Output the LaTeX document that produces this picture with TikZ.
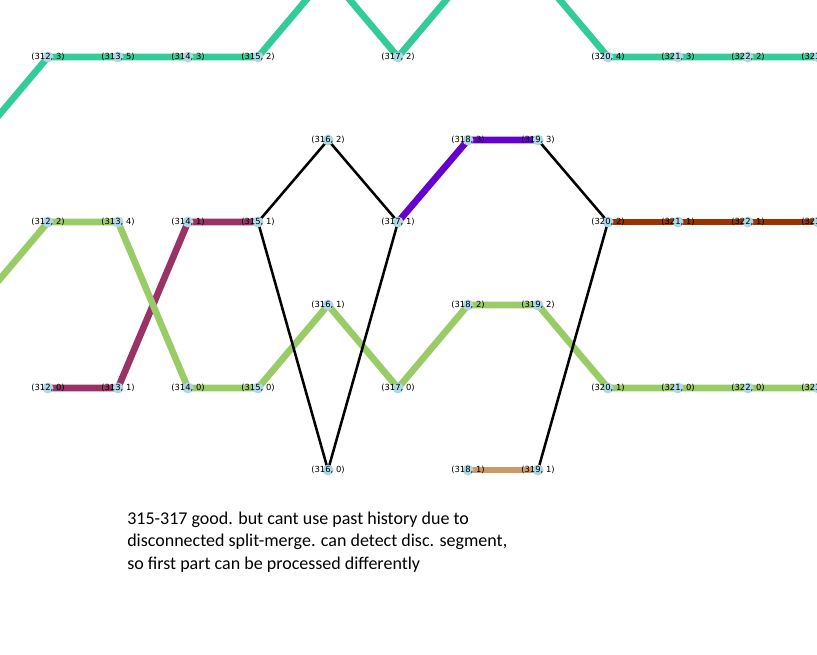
\documentclass[tikz,border=0pt]{standalone}
\usepackage{fontspec}
\setmainfont{Carlito}
\newfontfamily\labelfont{DejaVu Sans}
\definecolor{dotfill}{RGB}{173, 216, 230}
\definecolor{tealpath}{RGB}{51, 204, 153}
\definecolor{greenpath}{RGB}{153, 204, 102}
\definecolor{maroonpath}{RGB}{153, 51, 102}
\definecolor{purplepath}{RGB}{102, 0, 204}
\definecolor{brownpath}{RGB}{153, 51, 0}
\definecolor{tanpath}{RGB}{204, 153, 102}
\pgfdeclarelayer{edges}
\pgfsetlayers{edges, main}
\tikzset{
    dot/.style={circle, fill=dotfill, inner sep=0pt, minimum size=8.25pt},
    lab/.style={font=\labelfont\fontsize{6.3}{7}\selectfont, inner sep=0pt},
    track/.style={line width=5pt, line join=round},
    link/.style={line width=1.9pt, black, line join=round},
}

\begin{document}
\begin{tikzpicture}[x=0.75pt, y=-0.75pt]
    \useasboundingbox (0, 0) rectangle (817, 655);
    \clip (0, 0) rectangle (817, 655);

    % frames 312..323, placed by column
    \foreach \tm/\lv/\yy in {312/3/57, 313/5/57, 314/3/57, 315/2/57, 317/2/57,
            320/4/57, 321/3/57, 322/2/57, 323/3/57,
            316/2/140, 318/3/140, 319/3/140,
            312/2/222, 313/4/222, 314/1/222, 315/1/222, 317/1/222,
            320/2/222, 321/1/222, 322/1/222, 323/1/222,
            316/1/305, 318/2/305, 319/2/305,
            312/0/388, 313/1/388, 314/0/388, 315/0/388, 317/0/388,
            320/1/388, 321/0/388, 322/0/388, 323/0/388,
            316/0/470, 318/1/470, 319/1/470}{
        \node[dot, label={[lab]center:{(\tm, \lv)}}] (n\tm-\lv)
            at ({48 + 70*(\tm - 312)}, \yy) {};
    }
    % ends that leave the frame
    \coordinate (tealin) at (-22, 140);
    \coordinate (greenin) at (-22, 305);
    \coordinate (teal316) at (328, -26);
    \coordinate (teal318) at (468, -26);
    \coordinate (teal319) at (538, -26);

    \begin{pgfonlayer}{edges}
        \draw[track, tealpath] (tealin) -- (n312-3.center) -- (n313-5.center)
            -- (n314-3.center) -- (n315-2.center) -- (teal316)
            -- (n317-2.center) -- (teal318) -- (teal319) -- (n320-4.center)
            -- (n321-3.center) -- (n322-2.center) -- (n323-3.center);
        \draw[track, maroonpath] (n312-0.center) -- (n313-1.center)
            -- (n314-1.center) -- (n315-1.center);
        \draw[track, greenpath] (greenin) -- (n312-2.center) -- (n313-4.center)
            -- (n314-0.center) -- (n315-0.center) -- (n316-1.center)
            -- (n317-0.center) -- (n318-2.center) -- (n319-2.center)
            -- (n320-1.center) -- (n321-0.center) -- (n322-0.center)
            -- (n323-0.center);
        \draw[track, purplepath] (n317-1.center) -- (n318-3.center)
            -- (n319-3.center);
        \draw[track, brownpath] (n320-2.center) -- (n321-1.center)
            -- (n322-1.center) -- (n323-1.center);
        \draw[track, tanpath] (n318-1.center) -- (n319-1.center);

        % split and merge
        \draw[link] (n315-1.center) -- (n316-2.center) -- (n317-1.center);
        \draw[link] (n315-1.center) -- (n316-0.center) -- (n317-1.center);
        \draw[link] (n319-3.center) -- (n320-2.center);
        \draw[link] (n319-1.center) -- (n320-2.center);
    \end{pgfonlayer}

    \node[anchor=north west, align=left, inner sep=0pt,
        font=\fontsize{13.5}{16.6}\selectfont] (note) at (127, 512)
        {315-317 good. but cant use past history due to\\
        disconnected split-merge. can detect disc. segment,\\
        so first part can be processed differently};
\end{tikzpicture}
\end{document}
